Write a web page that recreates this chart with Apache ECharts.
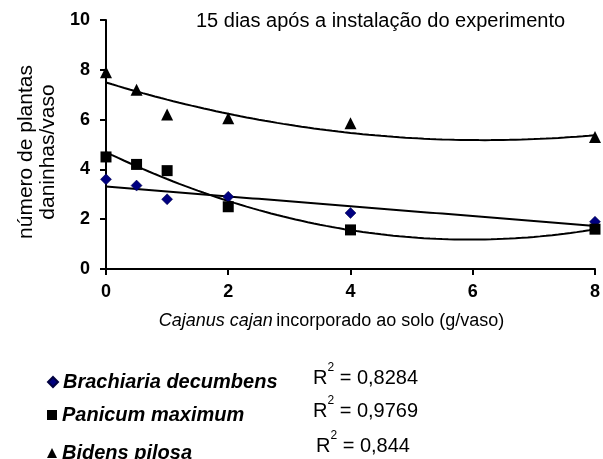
<!DOCTYPE html>
<html>
<head>
<meta charset="utf-8">
<script src="https://cdn.jsdelivr.net/npm/echarts@6/dist/echarts.min.js"></script>
<style>
html,body{margin:0;padding:0;background:#fff;}
#c{width:603px;height:459px;}
</style>
</head>
<body>
<div id="c"></div>
<script>
// ---- data ----
var doses = [0, 0.5, 1, 2, 4, 8];
var brachiaria = [3.6, 3.35, 2.8, 2.9, 2.25, 1.9];
var panicum = [4.5, 4.2, 3.95, 2.5, 1.57, 1.6];
var bidens = [7.9, 7.2, 6.2, 6.05, 5.85, 5.3];
var seriesNames = ['Brachiaria decumbens', 'Panicum maximum', 'Bidens pilosa'];
var r2Labels = ['0,8284', '0,9769', '0,844'];
var xTicks = [0, 2, 4, 6, 8];
var yTicks = [0, 2, 4, 6, 8, 10];

// ---- least squares polynomial fit (trendlines, as in the original) ----
function polyfit(xs, ys, deg) {
  var n = deg + 1, A = [], b = [];
  for (var i = 0; i < n; i++) {
    A.push([]);
    for (var j = 0; j < n; j++) {
      var s = 0;
      for (var k = 0; k < xs.length; k++) s += Math.pow(xs[k], i + j);
      A[i].push(s);
    }
    var t = 0;
    for (var k2 = 0; k2 < xs.length; k2++) t += ys[k2] * Math.pow(xs[k2], i);
    b.push(t);
  }
  for (var c = 0; c < n; c++) {
    var p = c;
    for (var r = c + 1; r < n; r++) if (Math.abs(A[r][c]) > Math.abs(A[p][c])) p = r;
    var tmp = A[c]; A[c] = A[p]; A[p] = tmp;
    var tb = b[c]; b[c] = b[p]; b[p] = tb;
    for (var r2 = c + 1; r2 < n; r2++) {
      var f = A[r2][c] / A[c][c];
      for (var cc = c; cc < n; cc++) A[r2][cc] -= f * A[c][cc];
      b[r2] -= f * b[c];
    }
  }
  var coef = new Array(n);
  for (var i2 = n - 1; i2 >= 0; i2--) {
    var s2 = b[i2];
    for (var j2 = i2 + 1; j2 < n; j2++) s2 -= A[i2][j2] * coef[j2];
    coef[i2] = s2 / A[i2][i2];
  }
  return coef;
}
function trend(xs, ys, deg) {
  var coef = polyfit(xs, ys, deg), out = [];
  var x0 = xs[0], x1 = xs[xs.length - 1];
  for (var i = 0; i <= 80; i++) {
    var x = x0 + (x1 - x0) * i / 80, y = 0;
    for (var k = 0; k < coef.length; k++) y += coef[k] * Math.pow(x, k);
    out.push([x, y]);
  }
  return out;
}
function pts(ys) { return doses.map(function (d, i) { return [d, ys[i]]; }); }

var font = '"Liberation Sans", Arial, sans-serif';
var chart = echarts.init(document.getElementById('c'), null, {renderer: 'canvas'});

var trendStyle = {color: '#000', width: 2};
function legendAt(name, top) {
  return {
    data: [name], left: 42, top: top, orient: 'vertical',
    itemWidth: 10, itemHeight: 10, itemGap: 0,
    textStyle: {fontFamily: font, fontSize: 20, fontWeight: 'bold', fontStyle: 'italic', color: '#000', lineHeight: 22},
    selectedMode: false
  };
}
function r2Text(label, left, top) {
  return {type: 'text', left: left, top: top, style: {
    text: '{r|R}{s|2}{r| = ' + label + '}',
    rich: {
      r: {font: '20px ' + font, fill: '#000', lineHeight: 26, verticalAlign: 'bottom'},
      s: {font: '12px ' + font, fill: '#000', lineHeight: 26, verticalAlign: 'top'}
    }
  }};
}

var option = {
  animation: false,
  backgroundColor: '#fff',
  textStyle: {fontFamily: font},
  grid: {left: 106, right: 7, top: 20, bottom: 190, containLabel: false},
  legend: [
    legendAt(seriesNames[0], 366),
    legendAt(seriesNames[1], 399),
    legendAt(seriesNames[2], 437)
  ],
  xAxis: {
    type: 'value', min: xTicks[0], max: xTicks[xTicks.length - 1], interval: 2,
    axisLine: {onZero: false, lineStyle: {color: '#000', width: 2}},
    axisTick: {show: true, length: 6, lineStyle: {color: '#000', width: 2}},
    splitLine: {show: false},
    axisLabel: {fontFamily: font, fontSize: 18, fontWeight: 'bold', color: '#000', margin: 14, showMaxLabel: true},
    name: '{i|Cajanus cajan} {n|incorporado ao solo (g/vaso)}',
    nameLocation: 'middle', nameGap: 43,
    nameTextStyle: {
      padding: [0, 38, 0, 0],
      rich: {
        i: {fontFamily: font, fontSize: 18, fontStyle: 'italic', color: '#000'},
        n: {fontFamily: font, fontSize: 18, color: '#000'}
      }
    }
  },
  yAxis: {
    type: 'value', min: yTicks[0], max: yTicks[yTicks.length - 1], interval: 2,
    axisLine: {show: true, lineStyle: {color: '#000', width: 2}},
    axisTick: {show: true, length: 6, lineStyle: {color: '#000', width: 2}},
    splitLine: {show: false},
    axisLabel: {fontFamily: font, fontSize: 18, fontWeight: 'bold', color: '#000', margin: 16},
    name: 'número de plantas\ndaninhas/vaso',
    nameLocation: 'middle', nameGap: 47, nameRotate: 90,
    nameTextStyle: {fontFamily: font, fontSize: 21, color: '#000', lineHeight: 22, padding: [0, 15, 0, 0]}
  },
  graphic: [
    {type: 'text', left: 196, top: 11, style: {text: '15 dias após a instalação do experimento', font: '20px ' + font, fill: '#000'}},
    r2Text(r2Labels[0], 313, 362),
    r2Text(r2Labels[1], 313, 395),
    r2Text(r2Labels[2], 316, 430)
  ],
  series: [
    {name: 'trend-b', type: 'line', data: trend(doses, brachiaria, 1), symbol: 'none', lineStyle: trendStyle, z: 1, silent: true},
    {name: 'trend-p', type: 'line', data: trend(doses, panicum, 2), symbol: 'none', lineStyle: trendStyle, z: 1, silent: true},
    {name: 'trend-bi', type: 'line', data: trend(doses, bidens, 2), symbol: 'none', lineStyle: trendStyle, z: 1, silent: true},
    {name: seriesNames[0], type: 'scatter', data: pts(brachiaria), symbol: 'diamond', symbolSize: 11,
      itemStyle: {color: '#000080', borderColor: '#000040', borderWidth: 0.5, opacity: 1}, z: 3},
    {name: seriesNames[1], type: 'scatter', data: pts(panicum), symbol: 'rect', symbolSize: 11,
      itemStyle: {color: '#000', opacity: 1}, z: 3},
    {name: seriesNames[2], type: 'scatter', data: pts(bidens), symbol: 'triangle', symbolSize: 12,
      itemStyle: {color: '#000', opacity: 1}, z: 3}
  ]
};
chart.setOption(option);
</script>
</body>
</html>
